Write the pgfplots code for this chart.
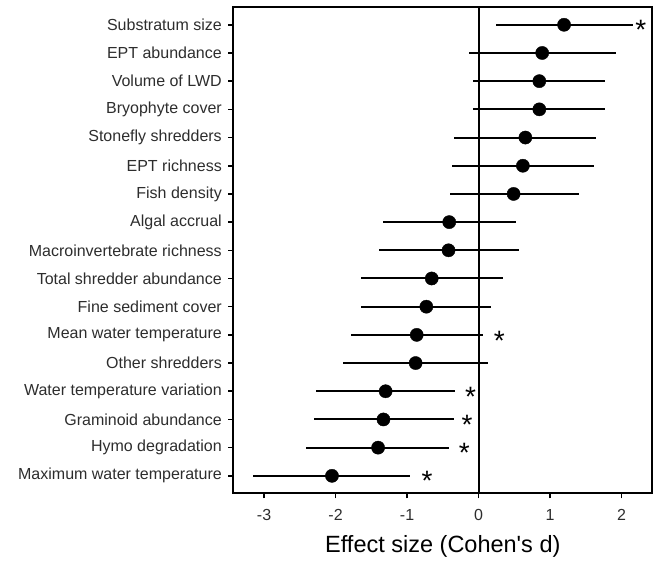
\documentclass[border=0pt]{standalone}
\usepackage{fontspec}
\setmainfont{Liberation Sans}
\usepackage{pgfplots}
\usepackage{pgfplotstable}
\pgfplotsset{compat=1.18}
\definecolor{axtext}{RGB}{45,45,45}

% y = row (1 = bottom), d = effect size, lo/hi = interval ends
\pgfplotstableread{
y  d      lo     hi
17 1.196  0.245  2.16
16 0.89  -0.13   1.92
15 0.85  -0.08   1.77
14 0.85  -0.08   1.77
13 0.655 -0.34   1.64
12 0.62  -0.375  1.615
11 0.49  -0.40   1.40
10 -0.41 -1.33   0.52
9  -0.42 -1.39   0.56
8  -0.655 -1.65  0.34
7  -0.73 -1.65   0.18
6  -0.865 -1.79  0.06
5  -0.88 -1.89   0.13
4  -1.30 -2.28  -0.33
3  -1.33 -2.30  -0.35
2  -1.405 -2.41 -0.42
1  -2.05 -3.15  -0.96
}\effects

% positions of the significance stars
\pgfplotstableread{
y  s
17 2.27
6  0.29
4  -0.11
3  -0.16
2  -0.20
1  -0.72
}\stars

\begin{document}
\begin{tikzpicture}
\begin{axis}[
  name=ax, at={(0,0)}, anchor=south west,
  scale only axis, width=419bp, height=486bp,
  xmin=-3.43, xmax=2.43, ymin=0.38, ymax=17.62,
  axis line style={line width=2bp},
  tick style={line width=1.6bp, black}, tick align=outside,
  major tick length=5bp,
  xtick={-3,-2,-1,0,1,2}, xticklabels={-3,-2,-1,0,1,2},
  ytick={1,...,17},
  yticklabels={Maximum water temperature, Hymo degradation, Graminoid abundance,
    Water temperature variation, Other shredders, Mean water temperature,
    Fine sediment cover, Total shredder abundance, Macroinvertebrate richness,
    Algal accrual, Fish density, EPT richness, Stonefly shredders,
    Bryophyte cover, Volume of LWD, EPT abundance, Substratum size},
  xtick pos=bottom, ytick pos=left,
  ticklabel style={font=\fontsize{16bp}{19bp}\selectfont, text=axtext},
  xticklabel style={yshift=-8bp},
  yticklabel style={xshift=-3bp},
  /pgf/number format/assume math mode=true,
  xlabel={Effect size (Cohen\textquotesingle s d)},
  xlabel style={font=\fontsize{23.5bp}{27bp}\selectfont, at={(axis description cs:0.5,0)}, anchor=base, yshift=-58.7bp},
  clip=false,
]
\draw[line width=2bp] (axis cs:0,0.38) -- (axis cs:0,17.62);
\draw[line width=2bp] (rel axis cs:0,0) rectangle (rel axis cs:1,1);
\addplot[only marks, mark=*, mark size=6.6bp, black,
  error bars/.cd, x dir=both, x explicit, error mark=none,
  error bar style={line width=2bp, black}]
  table[x=d, y=y, x error plus expr=\thisrow{hi}-\thisrow{d},
        x error minus expr=\thisrow{d}-\thisrow{lo}] {\effects};
\addplot[only marks, mark=none, nodes near coords={*},
  nodes near coords align={center},
  every node near coord/.append style={font=\fontsize{28bp}{30bp}\selectfont, inner sep=0pt, yshift=-5.5bp}]
  table[x=s, y=y] {\stars};
\end{axis}
\path (-233.3bp,-64.7bp) rectangle (420.7bp,493.3bp);
\end{tikzpicture}
\end{document}
